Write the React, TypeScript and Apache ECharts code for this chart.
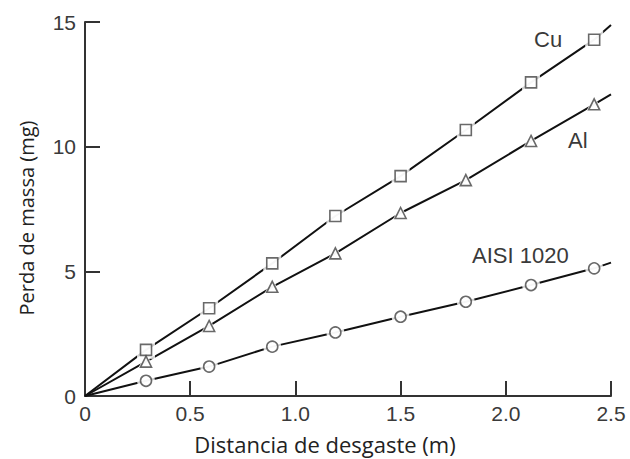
import React, { useEffect, useRef } from "react";
import * as echarts from "echarts";

// Sliding distance (m) at which mass loss was measured
const distance = [0.29, 0.59, 0.89, 1.19, 1.5, 1.81, 2.12, 2.42];
// Mass loss (mg) for each material
const cuLoss = [1.85, 3.52, 5.32, 7.22, 8.82, 10.67, 12.58, 14.29];
const alLoss = [1.38, 2.81, 4.38, 5.72, 7.34, 8.66, 10.23, 11.7];
const aisiLoss = [0.61, 1.18, 1.98, 2.55, 3.18, 3.78, 4.45, 5.12];
// Fitted lines: start at the origin and run to the end of the axis
const fitEndX = 2.5;
const cuFitEnd = 14.88;
const alFitEnd = 12.1;
const aisiFitEnd = 5.35;

const materials = ["Cu", "Al", "AISI 1020"];
const xTicks = [0, 0.5, 1.0, 1.5, 2.0, 2.5];
const yTicks = [0, 5, 10, 15];

const pairs = (ys: number[]) => distance.map((x, i) => [x, ys[i]]);

export default function App() {
  const ref = useRef<HTMLDivElement>(null);

  useEffect(() => {
    if (!ref.current) return;
    const chart = echarts.init(ref.current, null, { renderer: "svg" });

    const ink = "#111";
    const markerInk = "#444";
    const symbols = ["rect", "triangle", "circle"];
    const sizes = [11, 11, 11];
    const sets = [cuLoss, alLoss, aisiLoss];
    const ends = [cuFitEnd, alFitEnd, aisiFitEnd];

    const series: any[] = [];
    sets.forEach((ys, k) => {
      series.push({
        name: materials[k] + " fit",
        type: "line",
        data: [[0, 0], ...pairs(ys), [fitEndX, ends[k]]],
        showSymbol: false,
        symbol: "none",
        lineStyle: { color: ink, width: 2 },
        z: 2,
        silent: true,
      });
    });
    // white halo under each marker so the line breaks around it
    sets.forEach((ys, k) => {
      series.push({
        name: materials[k] + " halo",
        type: "scatter",
        data: pairs(ys),
        symbol: symbols[k],
        symbolSize: sizes[k] + 7,
        itemStyle: { color: "#fff", borderWidth: 0 },
        z: 3,
        silent: true,
      });
    });
    sets.forEach((ys, k) => {
      series.push({
        name: materials[k],
        type: "scatter",
        data: pairs(ys),
        symbol: symbols[k],
        symbolSize: sizes[k],
        itemStyle: { color: "#fff", borderColor: markerInk, borderWidth: 1.6 },
        z: 4,
      });
    });

    const labelFont = "Liberation Sans, Arial, sans-serif";
    const titleFont = "Open Sans, Noto Sans, sans-serif";

    chart.setOption({
      animation: false,
      backgroundColor: "#fff",
      grid: { left: 85, right: 19, top: 22, bottom: 63, containLabel: false },
      xAxis: {
        type: "value",
        min: 0,
        max: 2.5,
        interval: 0.5,
        axisLine: { show: true, onZero: false, lineStyle: { color: "#333", width: 2 } },
        axisTick: { show: true, inside: true, length: 15, lineStyle: { color: "#333", width: 2 } },
        splitLine: { show: false },
        axisLabel: {
          margin: 7,
          fontSize: 21,
          color: "#3a3a3a",
          fontFamily: labelFont,
          formatter: (v: number) => {
            const t = xTicks.find((x) => Math.abs(x - v) < 1e-9);
            if (t === undefined) return "";
            return t === 0 ? "0" : t.toFixed(1);
          },
        },
      },
      yAxis: {
        type: "value",
        min: 0,
        max: 15,
        interval: 5,
        axisLine: { show: true, onZero: false, lineStyle: { color: "#333", width: 2 } },
        axisTick: { show: true, inside: true, length: 15, lineStyle: { color: "#333", width: 2 } },
        splitLine: { show: false },
        axisLabel: {
          margin: 9,
          fontSize: 21,
          color: "#3a3a3a",
          fontFamily: labelFont,
          formatter: (v: number) => (yTicks.includes(v) ? String(v) : ""),
        },
      },
      series,
      graphic: [
        {
          type: "text",
          left: 534,
          top: 28,
          style: { text: materials[0], fontSize: 22, fill: "#3a3a3a", fontFamily: labelFont },
        },
        {
          type: "text",
          left: 568,
          top: 129,
          style: { text: materials[1], fontSize: 22, fill: "#3a3a3a", fontFamily: labelFont },
        },
        {
          type: "text",
          left: 472,
          top: 244,
          style: { text: materials[2], fontSize: 22, fill: "#3a3a3a", fontFamily: labelFont },
        },
        {
          type: "text",
          x: 325,
          y: 444,
          style: {
            text: "Distancia de desgaste (m)",
            fontSize: 22,
            fill: "#222",
            fontFamily: titleFont,
            align: "center",
            verticalAlign: "middle",
          },
        },
        {
          type: "text",
          x: 26,
          y: 218,
          rotation: Math.PI / 2,
          style: {
            text: "Perda de massa (mg)",
            fontSize: 20,
            fill: "#222",
            fontFamily: titleFont,
            align: "center",
            verticalAlign: "middle",
          },
        },
      ],
    });

    return () => chart.dispose();
  }, []);

  return (
    <div
      ref={ref}
      style={{ position: "fixed", left: 0, top: 0, width: 630, height: 459 }}
    />
  );
}
